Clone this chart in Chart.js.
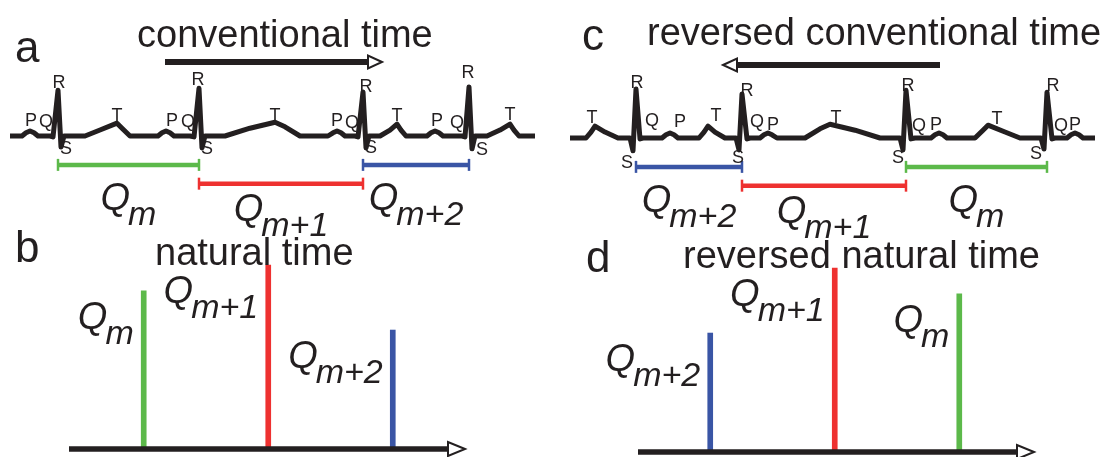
<!DOCTYPE html>
<html>
<head>
<meta charset="utf-8">
<script src="https://cdn.jsdelivr.net/npm/chart.js@4.4.1/dist/chart.umd.min.js"></script>
<style>
  html, body { margin: 0; padding: 0; background: #fff; }
  #wrap { position: relative; width: 1108px; height: 457px; overflow: hidden; }
  #wrap canvas { position: absolute; left: 0; top: 0; }
</style>
</head>
<body>
<div id="wrap">
  <canvas id="panelA" width="1108" height="457"></canvas>
  <canvas id="panelB" width="1108" height="457"></canvas>
  <canvas id="panelC" width="1108" height="457"></canvas>
  <canvas id="panelD" width="1108" height="457"></canvas>
</div>
<script>
// ECG trace (time in ms, amplitude in mV)
const ecgTime = [0, 60, 80, 100, 120, 140, 200, 215, 240, 255, 270, 375, 450, 535, 560, 600,
  740, 760, 780, 800, 820, 900, 920, 945, 960, 975, 1075, 1200, 1325, 1375, 1450,
  1590, 1615, 1635, 1655, 1675, 1725, 1740, 1765, 1780, 1795, 1850, 1900, 1935, 1955, 1980,
  2085, 2105, 2125, 2145, 2165, 2260, 2275, 2295, 2310, 2325, 2385, 2450, 2500, 2520, 2545, 2625];
const ecgVolt = [0, 0, 0.07, 0.11, 0.07, 0, 0, -0.02, 1.0, -0.24, 0, 0, 0.13, 0.28, 0.17, 0,
  0, 0.07, 0.11, 0.07, 0, 0, -0.02, 1.04, -0.26, 0, 0, 0.17, 0.30, 0.2, 0,
  0, 0.07, 0.11, 0.07, 0, 0, -0.02, 0.96, -0.26, 0, 0, 0.13, 0.26, 0.13, 0,
  0, 0.07, 0.11, 0.07, 0, 0, -0.02, 1.07, -0.28, 0, 0, 0.13, 0.26, 0.13, 0, 0];

// R peaks and the RR intervals Q_m, Q_m+1, Q_m+2 (ms)
const rPeakTimes = [240, 945, 1765, 2295];
const intervalNames = ['m', 'm+1', 'm+2'];
const intervalMs = [705, 820, 530];
const naturalIndex = [1, 2, 3];

// wave letters (panel a and the reversed panel c)
const waveLettersA = ['P','Q','R','S','T', 'P','Q','R','S','T', 'P','Q','R','S','T', 'P','Q','R','S','T'];
const waveTimeA = [105, 180, 245, 280, 535, 810, 890, 940, 985, 1325, 1635, 1710, 1780, 1805, 1935, 2135, 2235, 2290, 2360, 2500];
const waveVoltA = [0.33, 0.30, 1.15, -0.28, 0.43, 0.33, 0.30, 1.22, -0.28, 0.43, 0.33, 0.28, 1.06, -0.26, 0.43, 0.33, 0.28, 1.37, -0.30, 0.46];
const waveLettersC = ['T','R','Q','P','S', 'T','R','Q','P','S', 'T','R','Q','P','S', 'T','R','Q','P','S'];
const waveTimeC = [2515, 2290, 2215, 2075, 2340, 1895, 1740, 1690, 1610, 1785, 1295, 935, 880, 795, 985, 490, 210, 170, 100, 295];
const waveVoltC = [0.43, 1.20, 0.37, 0.35, -0.54, 0.48, 1.02, 0.35, 0.28, -0.43, 0.43, 1.13, 0.26, 0.28, -0.43, 0.41, 1.13, 0.26, 0.28, -0.35];

const timeArrow = [775, 1860];

const intervalColors = ['#5cb94a', '#ee3130', '#3a55a5'];
const INK = '#231f20';
const FONT = '"Liberation Sans", Arial, Helvetica, sans-serif';

function barRow(i) {
  return i % 2 ? -1.04 : -0.63;
}

function drawArrow(ctx, x0, x1, y, width, headLen, headHalf) {
  const dir = Math.sign(x1 - x0);
  ctx.save();
  ctx.strokeStyle = INK;
  ctx.lineWidth = width;
  ctx.beginPath();
  ctx.moveTo(x0, y);
  ctx.lineTo(x1 - dir * headLen, y);
  ctx.stroke();
  ctx.beginPath();
  ctx.moveTo(x1, y);
  ctx.lineTo(x1 - dir * headLen, y - headHalf);
  ctx.lineTo(x1 - dir * headLen, y + headHalf);
  ctx.closePath();
  ctx.fillStyle = '#fff';
  ctx.fill();
  ctx.lineWidth = 2;
  ctx.stroke();
  ctx.restore();
}

// italic Q with a subscript, top = top of the Q
function drawQ(ctx, sub, x, top, align) {
  const big = 'italic 38px ' + FONT;
  const small = 'italic 34px ' + FONT;
  ctx.save();
  ctx.fillStyle = INK;
  ctx.textAlign = 'left';
  ctx.textBaseline = 'alphabetic';
  ctx.font = big;
  const wq = ctx.measureText('Q').width - 2;
  ctx.font = small;
  const ws = ctx.measureText(sub).width;
  const left = align === 'right' ? x - wq - ws : x - (wq + ws) / 2;
  const base = top + 27;
  ctx.font = big;
  ctx.fillText('Q', left, base);
  ctx.font = small;
  ctx.fillText(sub, left + wq, base + 15);
  ctx.restore();
}

function drawText(ctx, str, x, base, size) {
  ctx.save();
  ctx.fillStyle = INK;
  ctx.font = size + 'px ' + FONT;
  ctx.textAlign = 'left';
  ctx.textBaseline = 'alphabetic';
  ctx.fillText(str, x, base);
  ctx.restore();
}

const common = {
  responsive: false,
  animation: false,
  devicePixelRatio: 1,
  events: [],
  plugins: { legend: { display: false }, tooltip: { enabled: false }, title: { display: false } }
};

function ecgChart(id, reverse, pad, deco) {
  const datasets = [{
    data: ecgTime.map((t, i) => ({ x: t, y: ecgVolt[i] })),
    borderColor: INK,
    borderWidth: 5,
    borderJoinStyle: 'round',
    pointRadius: 0,
    tension: 0
  }];
  intervalNames.forEach((name, i) => {
    datasets.push({
      data: [{ x: rPeakTimes[i], y: barRow(i) }, { x: rPeakTimes[i] + intervalMs[i], y: barRow(i) }],
      borderColor: intervalColors[i],
      borderWidth: 4.5,
      borderCapStyle: 'butt',
      pointStyle: 'line',
      pointRadius: 6,
      pointRotation: 90,
      pointBorderWidth: 2.5,
      pointBorderColor: intervalColors[i]
    });
  });
  return new Chart(document.getElementById(id), {
    type: 'line',
    data: { datasets },
    options: {
      ...common,
      layout: { padding: pad },
      scales: {
        x: { type: 'linear', min: 0, max: 2625, reverse, display: false },
        y: { type: 'linear', min: -1.2, max: 1.2, display: false }
      }
    },
    plugins: [{
      id: 'ecgDecor',
      afterDatasetsDraw(chart) {
        const { ctx, scales: { x, y } } = chart;
        ctx.save();
        ctx.fillStyle = INK;
        ctx.font = '18px ' + FONT;
        ctx.textAlign = 'center';
        ctx.textBaseline = 'middle';
        deco.letters.forEach((l, i) => {
          ctx.fillText(l, x.getPixelForValue(deco.times[i]), y.getPixelForValue(deco.volts[i]));
        });
        ctx.restore();
        intervalNames.forEach((name, i) => {
          const mid = x.getPixelForValue(rPeakTimes[i] + intervalMs[i] / 2);
          const barY = y.getPixelForValue(barRow(i));
          drawQ(ctx, name, mid, barY + (i % 2 ? 10 : 18), 'center');
        });
        drawArrow(ctx, x.getPixelForValue(timeArrow[0]), x.getPixelForValue(timeArrow[1]), deco.arrowY, 6, 14, 6.5);
        drawText(ctx, deco.title, deco.titleX, deco.titleBase, 38);
        drawText(ctx, deco.panel, deco.panelX, deco.panelBase, 44);
      }
    }]
  });
}

function stickChart(id, reverse, pad, deco) {
  return new Chart(document.getElementById(id), {
    type: 'bar',
    data: {
      datasets: [{
        data: naturalIndex.map((k, i) => ({ x: k, y: intervalMs[i] })),
        backgroundColor: intervalColors,
        borderWidth: 0,
        barThickness: 5
      }]
    },
    options: {
      ...common,
      layout: { padding: pad },
      scales: {
        x: { type: 'linear', min: 0.4, max: 3.58, reverse, offset: false, display: false },
        y: { type: 'linear', min: 0, max: 900, display: false }
      }
    },
    plugins: [{
      id: 'stickDecor',
      afterDatasetsDraw(chart) {
        const { ctx, chartArea, scales: { x, y } } = chart;
        const y0 = y.getPixelForValue(0);
        drawArrow(ctx, chartArea.left, chartArea.right, y0, 5.5, 17, 7);
        naturalIndex.forEach((k, i) => {
          drawQ(ctx, intervalNames[i], x.getPixelForValue(k) - 10, y.getPixelForValue(intervalMs[i]) + 11, 'right');
        });
        drawText(ctx, deco.title, deco.titleX, deco.titleBase, 38);
        drawText(ctx, deco.panel, deco.panelX, deco.panelBase, 44);
      }
    }]
  });
}

ecgChart('panelA', false, { left: 10, right: 573, top: 81, bottom: 266 }, {
  letters: waveLettersA, times: waveTimeA, volts: waveVoltA, arrowY: 62,
  title: 'conventional time', titleX: 137, titleBase: 47, panel: 'a', panelX: 15, panelBase: 62
});
ecgChart('panelC', true, { left: 570, right: 13, top: 83, bottom: 264 }, {
  letters: waveLettersC, times: waveTimeC, volts: waveVoltC, arrowY: 65,
  title: 'reversed conventional time', titleX: 647, titleBase: 45, panel: 'c', panelX: 582, panelBase: 50
});
stickChart('panelB', false, { left: 69, right: 643, top: 247, bottom: 8 }, {
  title: 'natural time', titleX: 155, titleBase: 265, panel: 'b', panelX: 15, panelBase: 262
});
stickChart('panelD', true, { left: 638, right: 74, top: 250, bottom: 5 }, {
  title: 'reversed natural time', titleX: 683, titleBase: 268, panel: 'd', panelX: 586, panelBase: 272
});
</script>
</body>
</html>
